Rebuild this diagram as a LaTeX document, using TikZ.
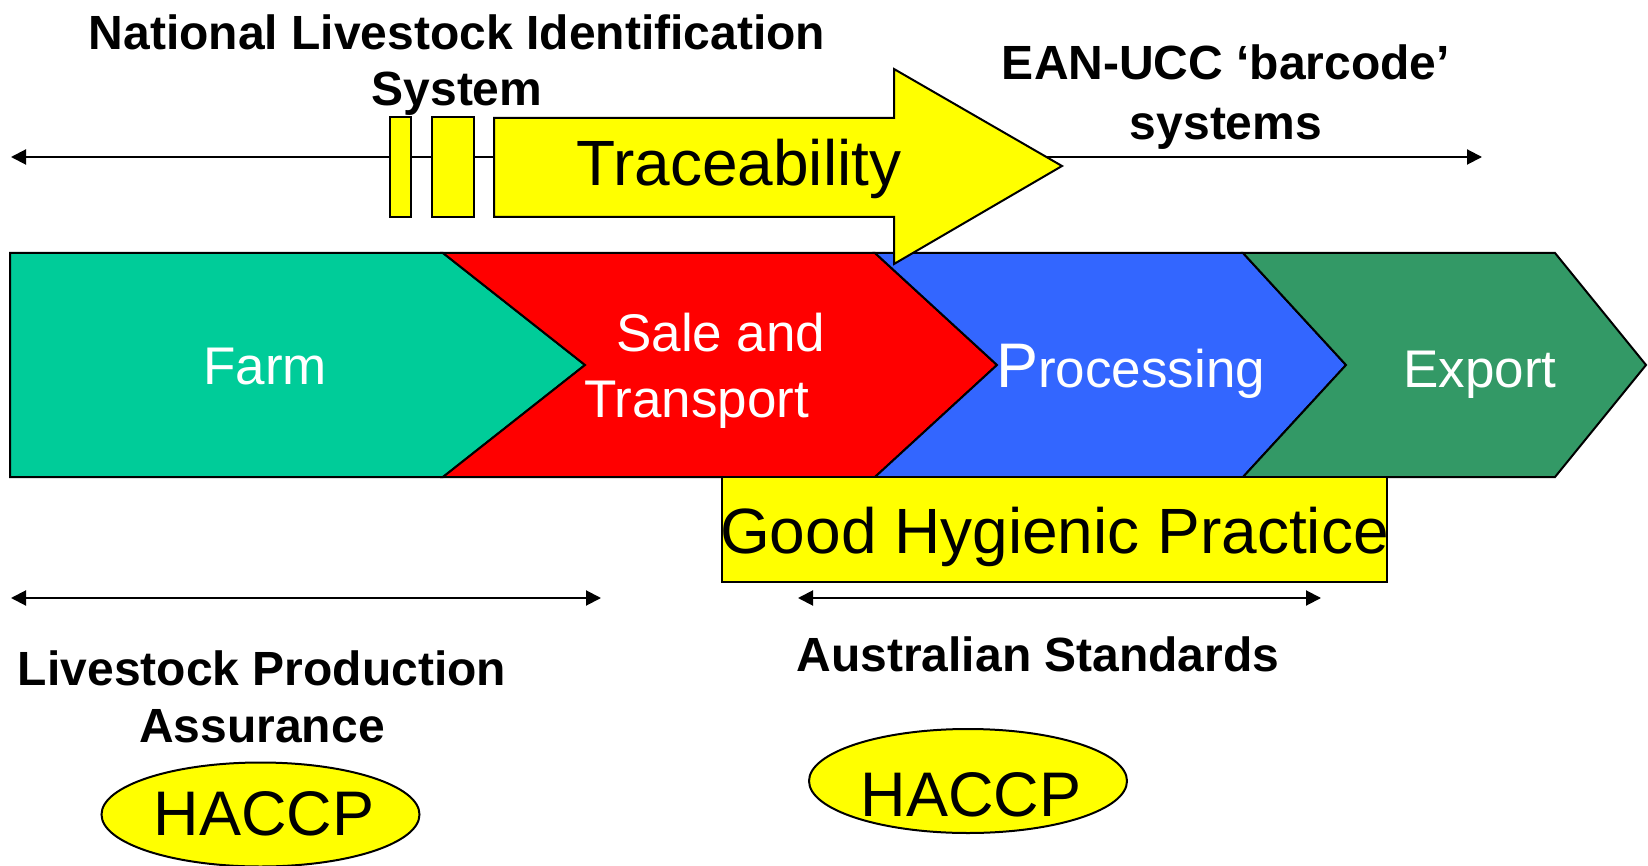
\documentclass[tikz,border=0pt]{standalone}
\usepackage{fontspec}
\setmainfont{Liberation Sans}
\usetikzlibrary{arrows.meta,shapes.geometric}
\definecolor{farmgreen}{RGB}{0,204,153}
\definecolor{salered}{RGB}{255,0,0}
\definecolor{procblue}{RGB}{51,102,255}
\definecolor{exportgreen}{RGB}{51,153,102}
\definecolor{markyellow}{RGB}{255,255,0}
\begin{document}
\begin{tikzpicture}[x=1pt,y=-1pt,
  outline/.style={draw=black, line width=2pt, line join=miter},
  stagetext/.style={text=white, inner sep=0pt, anchor=base, font=\fontsize{53}{60}\selectfont},
  heading/.style={inner sep=0pt, anchor=base, font=\bfseries\fontsize{48}{56}\selectfont},
  bigtext/.style={inner sep=0pt, anchor=base, font=\fontsize{64}{70}\selectfont},
  tipped/.style={line width=2pt, -{Triangle[length=15pt,width=15pt]}},
  span/.style={line width=2pt, {Triangle[length=15pt,width=15pt]}-{Triangle[length=15pt,width=15pt]}},
  haccp/.style={ellipse, outline, fill=markyellow, minimum width=318pt, minimum height=104pt, inner sep=0pt}
]
\useasboundingbox (0,0) rectangle (1648,866);

% ---- process band ----
\filldraw[outline, fill=farmgreen] (10,253) -- (443,253) -- (585,365) -- (443,477) -- (10,477) -- cycle;
\filldraw[outline, fill=salered] (443,253) -- (875,253) -- (997,365) -- (875,477) -- (443,477) -- (585,365) -- cycle;
\filldraw[outline, fill=procblue] (875,253) -- (1243,253) -- (1346,365) -- (1243,477) -- (875,477) -- (997,365) -- cycle;
\filldraw[outline, fill=exportgreen] (1243,253) -- (1555,253) -- (1646,365) -- (1555,477) -- (1243,477) -- (1346,365) -- cycle;

\node[stagetext] (farm) at (265,384) {Farm};
\node[stagetext, anchor=base west] (sale) at (616,352) {Sale and};
\node[stagetext, anchor=base west] (transport) at (584,417) {Transport};
\node[stagetext, anchor=base west] (processing) at (996,387) {{\fontsize{63}{70}\selectfont P}rocessing};
\node[stagetext] (export) at (1480,387) {Export};

% ---- traceability arrow and its span line ----
\coordinate (leftend) at (11,157);
\coordinate (bodyleft) at (494,157);
\coordinate (headedge) at (1046,157);
\coordinate (rightend) at (1482,157);
\draw[tipped] (bodyleft) -- (leftend);
\draw[tipped] (headedge) -- (rightend);
\filldraw[outline, fill=markyellow] (390,117) rectangle (411,217);
\filldraw[outline, fill=markyellow] (432,117) rectangle (474,217);
\filldraw[outline, fill=markyellow] (494,118) -- (894,118) -- (894,69) -- (1062,166) -- (894,264) -- (894,217) -- (494,217) -- cycle;
\node[bigtext] (trace) at (739,186) {Traceability};

\node[heading] (nlis1) at (457,50) {National Livestock Identification};
\node[heading] (nlis2) at (457,106) {System};
\node[heading] (ean1) at (1226,80) {EAN-UCC ‘barcode’};
\node[heading] (ean2) at (1226,140) {systems};

% ---- good hygienic practice ----
\filldraw[outline, fill=markyellow] (722,477) rectangle (1387,582);
\node[inner sep=0pt, anchor=base, font=\fontsize{64}{70}\selectfont] (ghp) at (1054.5,553) {Good Hygienic Practice};

% ---- lower spans ----
\coordinate (lpaL) at (11,598);
\coordinate (lpaR) at (601,598);
\coordinate (ausL) at (798,598);
\coordinate (ausR) at (1321,598);
\draw[span] (lpaL) -- (lpaR);
\draw[span] (ausL) -- (ausR);

\node[heading] (lpa1) at (262,685) {Livestock Production};
\node[heading] (lpa2) at (262,742) {Assurance};
\node[heading] (aus) at (1038,671) {Australian Standards};

% ---- HACCP ellipses ----
\node[haccp] (haccpL) at (260.5,814.5) {};
\node[bigtext, font=\fontsize{63}{70}\selectfont] (haccpLtext) at (264,835) {HACCP};
\node[haccp] (haccpR) at (968,781) {};
\node[bigtext, font=\fontsize{63}{70}\selectfont] (haccpRtext) at (971,816) {HACCP};
\end{tikzpicture}
\end{document}
